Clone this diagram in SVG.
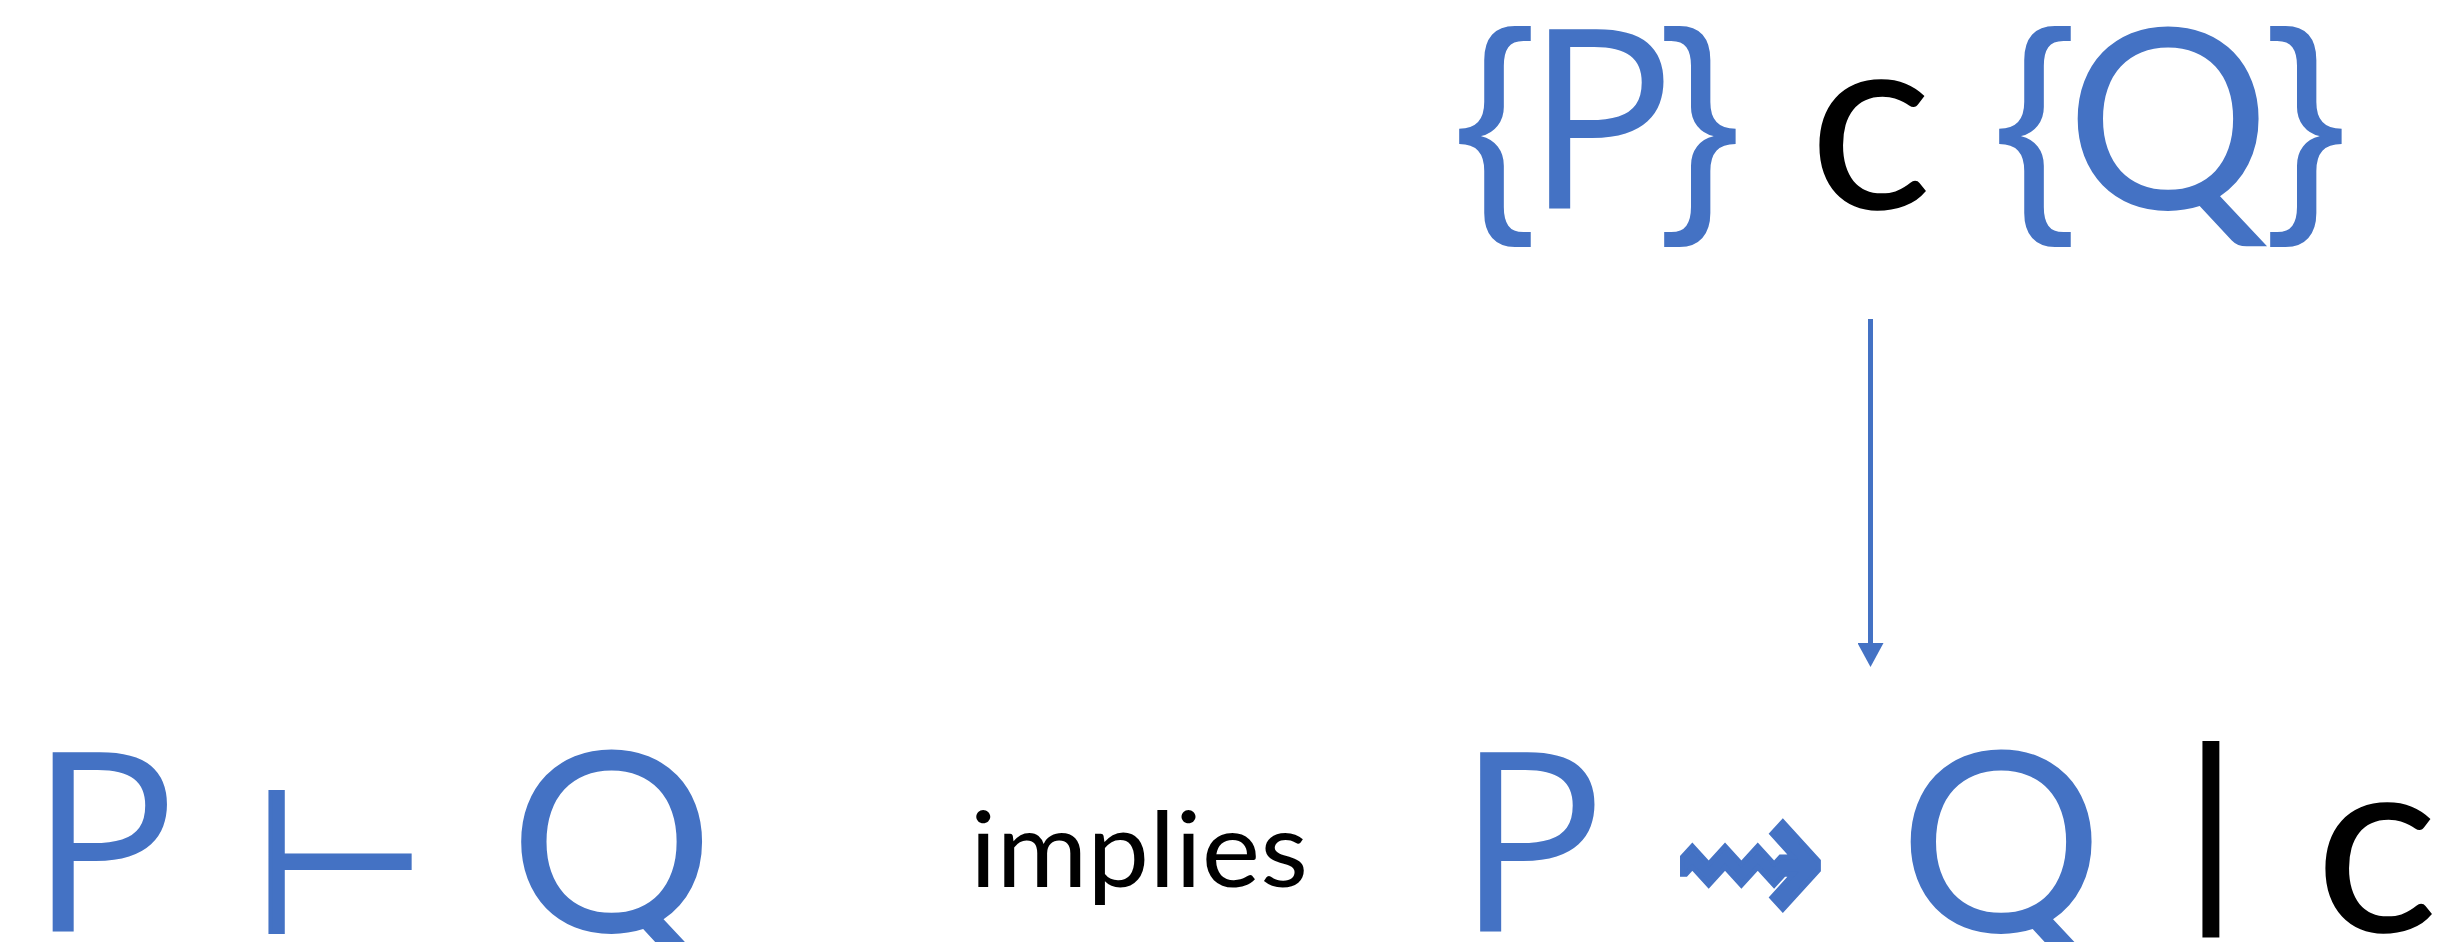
<svg xmlns="http://www.w3.org/2000/svg" width="2460" height="942" viewBox="0 0 2460 942">
  <style>
    .sym { font-family: "Open Sans", "Liberation Sans", sans-serif; fill: #4472C4; text-anchor: middle; font-size: 252px; }
    .round { font-family: Lato, "Open Sans", sans-serif; text-anchor: middle; font-size: 252px; }
    .blue { fill: #4472C4; }
    .ink { fill: #000000; }
    .brace { font-family: "Liberation Sans", Arial, sans-serif; fill: #4472C4; text-anchor: middle; font-size: 238.5px; }
    .word { font-family: Lato, "Open Sans", sans-serif; font-size: 104px; fill: #000000; }
    .math { font-family: "DejaVu Sans", sans-serif; fill: #4472C4; stroke: #4472C4; text-anchor: middle; }
    .conn { stroke: #4472C4; stroke-width: 5; fill: none; }
  </style>
  <defs>
    <marker id="tri" markerUnits="userSpaceOnUse" markerWidth="24" markerHeight="26" viewBox="0 0 24 26" refX="1" refY="13" orient="auto">
      <path d="M0,0 L24,13 L0,26 Z" fill="#4472C4"/>
    </marker>
  </defs>

  <!-- Hoare triple {P} c {Q} -->
  <g id="triple">
    <text class="brace" x="1495" y="197.7">{</text>
    <text class="sym" x="1600.5" y="209" textLength="152" lengthAdjust="spacingAndGlyphs">P</text>
    <text class="brace" x="1700" y="197.7">}</text>
    <text class="round ink" x="1870.5" y="209" textLength="124" lengthAdjust="spacingAndGlyphs">c</text>
    <text class="brace" x="2035" y="197.7">{</text>
    <text class="round blue" x="2168" y="209" textLength="205" lengthAdjust="spacingAndGlyphs">Q</text>
    <text class="brace" x="2306" y="197.7">}</text>
  </g>

  <!-- Judgement P ⊢ Q -->
  <g id="derivation">
    <text class="sym" x="104" y="932" textLength="152" lengthAdjust="spacingAndGlyphs">P</text>
    <text class="math" x="340" y="932" font-size="200" stroke-width="4" textLength="173" lengthAdjust="spacingAndGlyphs">⊢</text>
    <text class="round blue" x="611.5" y="932" textLength="205" lengthAdjust="spacingAndGlyphs">Q</text>
  </g>

  <!-- Connecting word -->
  <g id="implies">
    <text class="word" x="970" y="887" textLength="338" lengthAdjust="spacingAndGlyphs">implies</text>
  </g>

  <!-- Outcome P ⇝ Q | c -->
  <g id="outcome">
    <text class="sym" x="1531.5" y="932" textLength="152" lengthAdjust="spacingAndGlyphs">P</text>
    <text class="math" transform="translate(1749.5,862) scale(1,1.28)" x="0" y="53" font-size="160" stroke-width="4" textLength="156" lengthAdjust="spacingAndGlyphs">⇝</text>
    <text class="round blue" x="2001" y="932" textLength="205" lengthAdjust="spacingAndGlyphs">Q</text>
    <text class="ink" x="2211" y="893" font-size="209" font-family="Liberation Sans, Arial, sans-serif" text-anchor="middle">|</text>
    <text class="round ink" x="2376.5" y="932" textLength="124" lengthAdjust="spacingAndGlyphs">c</text>
  </g>

  <!-- Connectors -->
  <g id="connectors">
    <line class="conn" x1="1870.5" y1="319" x2="1870.5" y2="644" marker-end="url(#tri)"/>
  </g>
</svg>
